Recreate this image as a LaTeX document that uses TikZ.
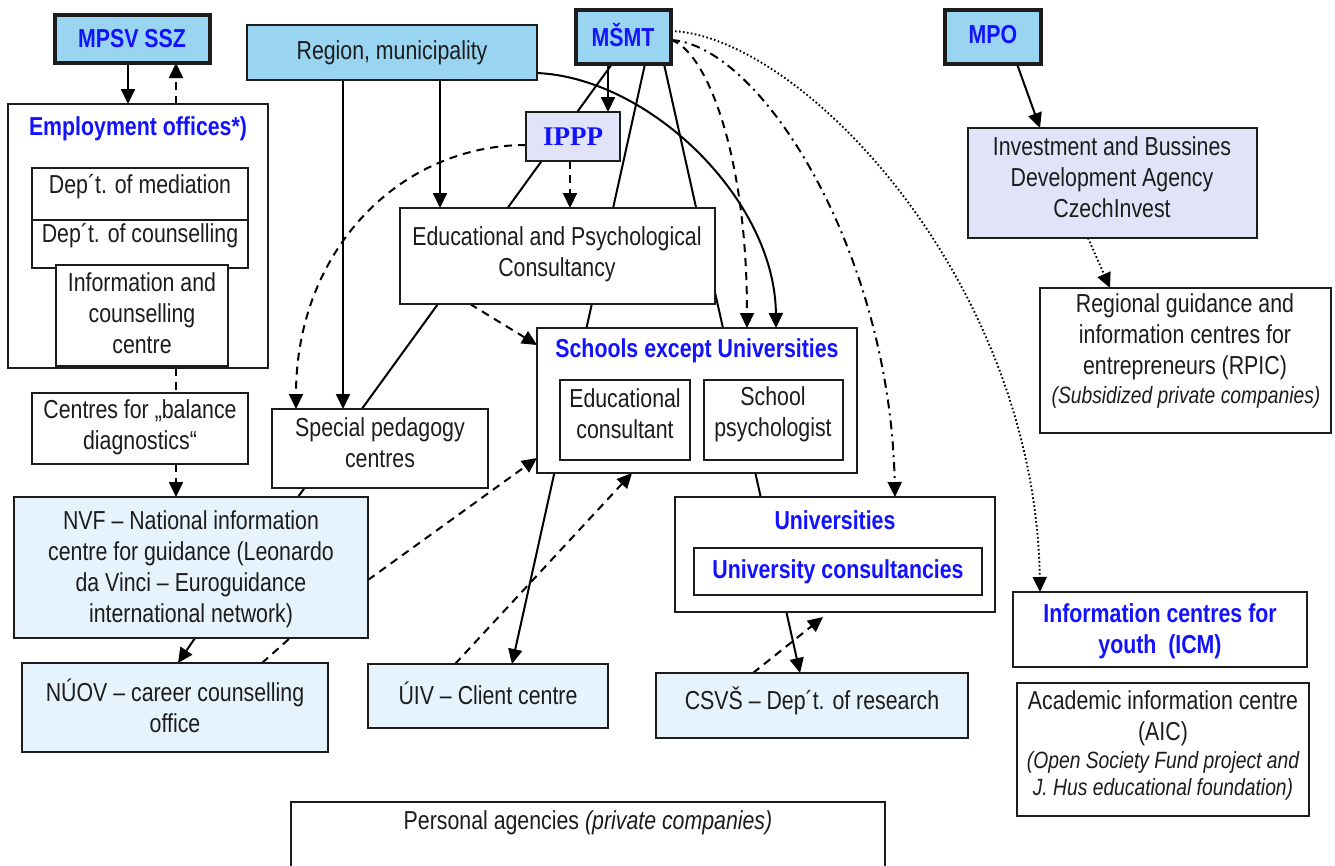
\documentclass[tikz,border=0pt]{standalone}
\usepackage{fontspec}
\setmainfont{Liberation Sans}[FakeStretch=0.82]
\newfontfamily\timesfont{Liberation Serif}
\usetikzlibrary{arrows.meta,backgrounds}
\definecolor{topblue}{RGB}{153,213,240}
\definecolor{lav}{RGB}{225,228,249}
\definecolor{pale}{RGB}{230,243,252}
\definecolor{tblue}{RGB}{18,18,255}
\definecolor{linec}{RGB}{28,28,28}
\newcommand\fsn{\fontsize{26}{31}\selectfont}
\newcommand\fsi{\fontsize{23.5}{26.5}\selectfont\itshape}
\begin{document}
\begin{tikzpicture}[x=1pt,y=-1pt,
 box/.style={draw=linec,line width=2.2pt,anchor=north west,inner sep=0pt,outer sep=0pt,fill=white},
 thickbox/.style={line width=4.5pt},
 txt/.style={font=\fsn,align=center,inner sep=0pt,text=linec},
 itx/.style={font=\fsi,align=center,inner sep=0pt,text=linec},
 ttl/.style={font=\fsn\bfseries,align=center,inner sep=0pt,text=tblue},
 conn/.style={line width=2pt,draw=black},
 arr/.style={conn,-{Triangle[length=15pt,width=14pt]}},
 dsh/.style={dash pattern=on 8pt off 6pt},
 dtt/.style={line width=1.9pt,dash pattern=on 1.6pt off 2.4pt},
 dshdot/.style={dash pattern=on 9pt off 5pt on 2pt off 5pt}]
\useasboundingbox (0,0) rectangle (1335,865);

% ---- boxes ----
\node[box,thickbox,fill=topblue,minimum width=155pt,minimum height=48pt] (mpsv) at (55,15) {};
\node[ttl] (mpsvt) at (132,39) {MPSV SSZ};
\node[box,fill=topblue,minimum width=290pt,minimum height=55pt] (region) at (247,25) {};
\node[txt] (regiont) at (392,53) {Region, municipality};
\node[box,thickbox,fill=topblue,minimum width=95pt,minimum height=54pt] (msmt) at (576,10) {};
\node[ttl] (msmtt) at (623,35) {MŠMT};
\node[box,thickbox,fill=topblue,minimum width=96pt,minimum height=54pt] (mpo) at (945,10) {};
\node[ttl] (mpot) at (993,35) {MPO};

\node[box,minimum width=260pt,minimum height=264pt] (emp) at (8,104) {};
\node[ttl] (empt) at (138,129) {Employment offices*)};
\node[box,minimum width=216pt,minimum height=52pt] (med) at (32,168) {};
\node[txt] (medt) at (140,187) {Dep´t. of mediation};
\node[box,minimum width=216pt,minimum height=48pt] (cou) at (32,220) {};
\node[txt] (cout) at (140,236) {Dep´t. of counselling};
\node[box,minimum width=172pt,minimum height=101pt] (icc) at (56,265) {};
\node[txt] (icct) at (142,313) {Information and\\counselling\\centre};

\node[box,fill=lav,minimum width=94pt,minimum height=49pt] (ippp) at (526,112) {};
\node[inner sep=0pt,text=tblue,font=\timesfont\bfseries\fontsize{27}{30}\selectfont] (ipppt) at (573,137) {IPPP};
\node[box,minimum width=315pt,minimum height=96pt] (eps) at (400,208) {};
\node[txt] (epst) at (557,254) {Educational and Psychological\\Consultancy};

\node[box,fill=lav,minimum width=289pt,minimum height=110pt] (czi) at (968,128) {};
\node[txt] (czit) at (1112,177) {Investment and Bussines\\Development Agency\\CzechInvest};
\node[box,minimum width=291pt,minimum height=145pt] (rpic) at (1040,288) {};
\node[txt] (rpict) at (1185,337) {Regional guidance and\\information centres for\\entrepreneurs (RPIC)};
\node[itx] (rpici) at (1186,397) {(Subsidized private companies)};

\node[box,minimum width=216pt,minimum height=71pt] (cbd) at (32,393) {};
\node[txt] (cbdt) at (140,427) {Centres for „balance\\diagnostics“};
\node[box,minimum width=216pt,minimum height=79pt] (spc) at (272,409) {};
\node[txt] (spct) at (380,443) {Special pedagogy\\centres};

\node[box,minimum width=320pt,minimum height=145pt] (sch) at (537,328) {};
\node[ttl] (scht) at (697,351) {Schools except Universities};
\node[box,minimum width=130pt,minimum height=80pt] (edc) at (560,380) {};
\node[txt] (edct) at (625,414) {Educational\\consultant};
\node[box,minimum width=139pt,minimum height=80pt] (psy) at (704,380) {};
\node[txt] (psyt) at (773,414) {School\\psychologist};

\node[box,fill=pale,minimum width=354pt,minimum height=141pt] (nvf) at (14,497) {};
\node[txt] (nvft) at (191,569) {NVF – National information\\centre for guidance (Leonardo\\da Vinci – Euroguidance\\international network)};

\node[box,minimum width=320pt,minimum height=115pt] (uni) at (675,497) {};
\node[ttl] (unit) at (835,520) {Universities};
\node[box,minimum width=288pt,minimum height=47pt] (ucon) at (694,548) {};
\node[ttl] (ucont) at (838,572) {University consultancies};

\node[box,minimum width=294pt,minimum height=75pt] (icm) at (1013,592) {};
\node[ttl] (icmt) at (1160,631) {Information centres for\\youth\ \ (ICM)};

\node[box,fill=pale,minimum width=306pt,minimum height=89pt] (nuov) at (22,663) {};
\node[txt] (nuovt) at (175,706) {NÚOV – career counselling\\office};
\node[box,fill=pale,minimum width=240pt,minimum height=64pt] (uiv) at (368,664) {};
\node[txt] (uivt) at (488,693) {ÚIV – Client centre};
\node[box,fill=pale,minimum width=312pt,minimum height=65pt] (csvs) at (656,673) {};
\node[txt] (csvst) at (812,701) {CSVŠ – Dep´t. of research};

\node[box,minimum width=292pt,minimum height=133pt] (aic) at (1017,683) {};
\node[txt] (aict) at (1163,718) {Academic information centre\\(AIC)};
\node[itx] (aici) at (1163,776) {(Open Society Fund project and\\J. Hus educational foundation)};

\node[txt] (pat) at (588,823) {Personal agencies \textit{(private companies)}};
\draw[draw=linec,line width=2.2pt] (291,870) |- (885,802) -- (885,870);

% ---- connectors ----
\begin{pgfonlayer}{background}
\draw[arr] (mpsv.south -| 128,0) -- (emp.north -| 128,0);
\draw[arr,dsh] (emp.north -| 176,0) -- (mpsv.south -| 176,0);
\draw[conn,dsh] (emp.south -| 176,0) -- (cbd.north -| 176,0);
\draw[arr,dsh] (cbd.south -| 176,0) -- (nvf.north -| 176,0);
\draw[arr] (region.south -| 343,0) -- (spc.north -| 343,0);
\draw[arr] (region.south -| 440,0) -- (eps.north -| 440,0);
\draw[arr] (region.east |- 0,73) .. controls (650,78) and (775,200) .. (sch.north -| 776,0);
\draw[arr] (msmt.south -| 608,0) -- (ippp.north -| 608,0);
\draw[conn] (msmt.south -| 612,0) -- (nvf.north -| 298,0);
\draw[arr] (msmt.south -| 645,0) -- (uiv.north -| 512,0);
\draw[arr] (msmt.south -| 664,0) -- (csvs.north -| 800,0);
\draw[arr,dsh] (msmt.east |- 0,40) .. controls (705,50) and (747,150) .. (sch.north -| 747,0);
\draw[arr,dshdot] (msmt.east |- 0,40) .. controls (760,45) and (890,250) .. (uni.north -| 895,0);
\draw[arr,dtt] (msmt.east |- 0,31) .. controls (800,35) and (1035,280) .. (icm.north -| 1040,0);
\draw[arr] (mpo.south -| 1017,0) -- (czi.north -| 1040,0);
\draw[arr,dtt] (czi.south -| 1088,0) -- (rpic.north -| 1110,0);
\draw[arr,dsh] (ippp.west |- 0,145) .. controls (400,145) and (296,250) .. (spc.north -| 296,0);
\draw[arr,dsh] (ippp.south -| 570,0) -- (eps.north -| 570,0);
\draw[arr,dsh] (eps.south -| 470,0) -- (sch.west |- 0,345);
\draw[arr,dsh] (nvf.east |- 0,580) -- (sch.west |- 0,458);
\draw[arr,dsh] (uiv.north -| 455,0) -- (sch.south -| 632,0);
\draw[arr] (nvf.south -| 195,0) -- (nuov.north -| 178,0);
\draw[conn,dsh] (nuov.north -| 262,0) -- (nvf.south -| 290,0);
\coordinate (csvstip) at (823,617);
\draw[arr,dsh] (csvs.north -| 753,0) -- (csvstip);
\end{pgfonlayer}
\end{tikzpicture}
\end{document}
